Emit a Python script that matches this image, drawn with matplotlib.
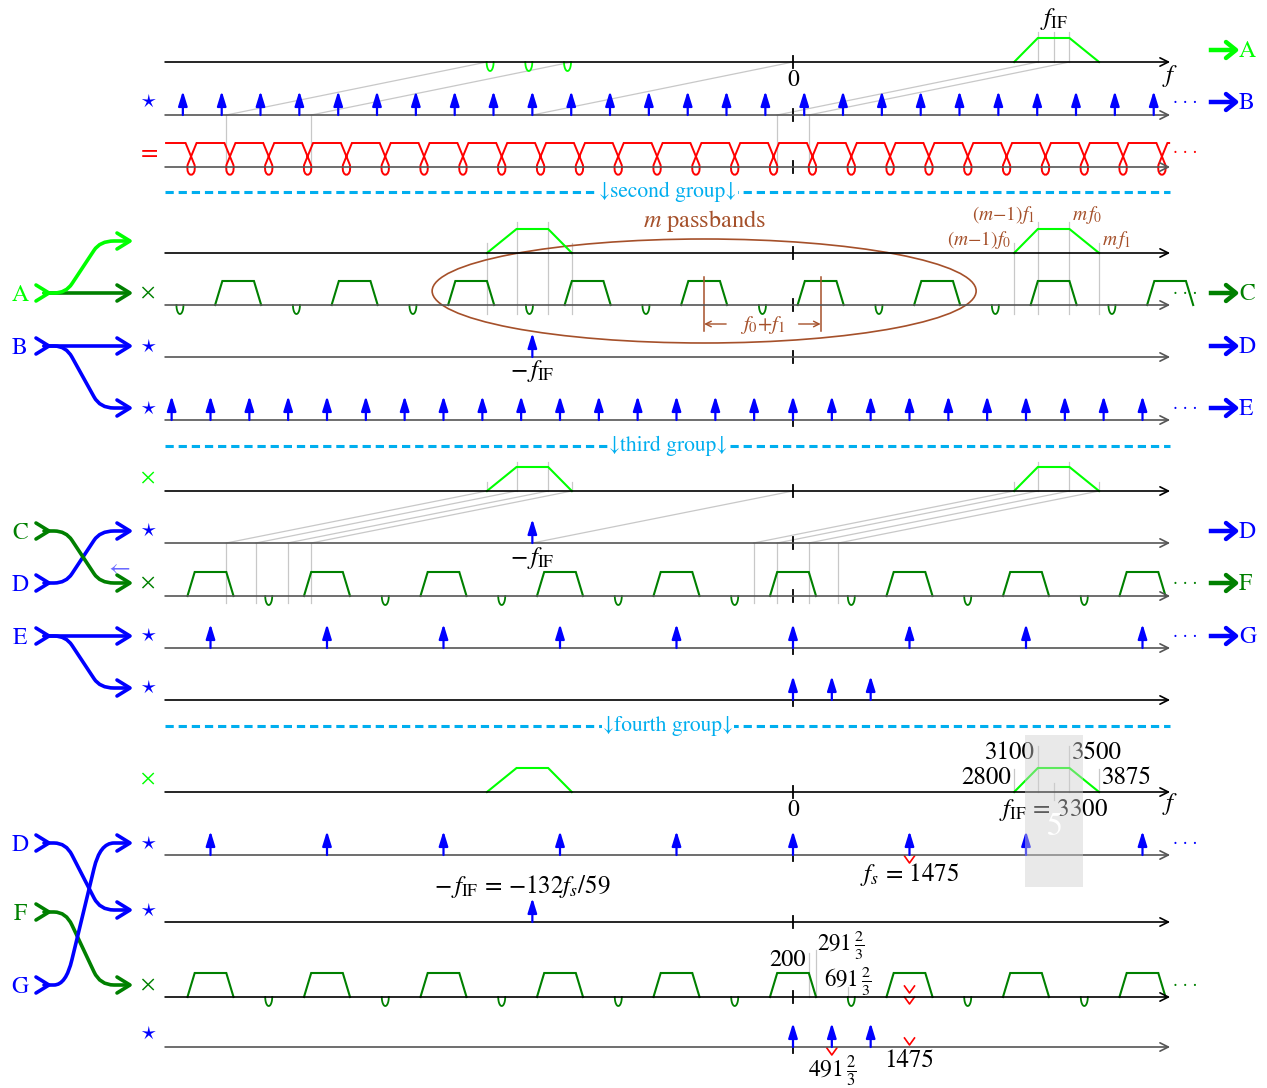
import numpy as np
import matplotlib
matplotlib.use("Agg")
import matplotlib.pyplot as plt
from matplotlib.path import Path
from matplotlib.patches import PathPatch, Ellipse, Rectangle

plt.rcParams["font.family"] = "STIXGeneral"
plt.rcParams["mathtext.fontset"] = "stix"

# ---------------------------------------------------------------- spectra (Hz)
F_IF = 3300
F_S = 1475
PASSBAND = [2800, 3100, 3500, 3875]              # rise, flat start, flat end, fall
IMAGE_NOTCHES = [-3835, -3345, -2855]
COMB_SHIFTED = [-7725, -7233, -6742, -6250, -5758, -5267, -4775, -4283, -3792,
                -3300, -2808, -2317, -1825, -1333, -842, -350, 142, 633, 1125,
                1617, 2108, 2600, 3092, 3583, 4075, 4567]
KNOTS = [-7621, -7129, -6638, -6146, -5654, -5163, -4671, -4179, -3688, -3196,
         -2704, -2213, -1721, -1229, -738, -246, 246, 738, 1229, 1721, 2213,
         2704, 3196, 3688, 4179, 4671]
COMB_THIRD = [-7867, -7375, -6883, -6392, -5900, -5408, -4917, -4425, -3933,
              -3442, -2950, -2458, -1967, -1475, -983, -492, 0, 492, 983, 1475,
              1967, 2458, 2950, 3442, 3933, 4425]
FILTER_C = [-7025, -5550, -4075, -2600, -1125, 350, 1825, 3300, 4775]
NOTCH_C = [-7762, -6287, -4812, -3337, -1862, -387, 1088, 2562, 4038]
FILTER_F = [-7375, -5900, -4425, -2950, -1475, 0, 1475, 2950, 4425]
NOTCH_F = [-6638, -5162, -3688, -2212, -738, 738, 2212, 3688]
COMB_FS = [-7375, -5900, -4425, -2950, -1475, 0, 1475, 2950, 4425]
LO_TONES = [0, 491.67, 983.33]
FLAT_HALF, EDGE_HALF = 200, 291.67
ALIAS_EDGE = 691.67
SKEW_G1 = [-3875, -2800, 0, 3100, 3500]
SKEW_G3 = [-3875, -3500, -3100, -2800, 0, 2800, 3100, 3500, 3875]
SPACING_MARKS = [-1125, 350]

# ---------------------------------------------------------------- layout
W, H = 1267, 1088
PX0 = 793
HZ_PER_PX = F_S / 116.5
AX_L, AX_R, CLIP_R = -7950, 4775, 4705

LIME, GREEN, BLUE, RED = "#00ff00", "#008000", "#0000ff", "#ff0000"
BROWN, CYAN, GUIDE = "#a5502a", "#00aeef", "#c8c8c8"
DARK, GREY = "#000000", "#555555"
DOTS = "· · ·"

fig = plt.figure(figsize=(W / 100, H / 100), dpi=100)
ax = fig.add_axes([0, 0, 1, 1])
ax.set_xlim(-PX0 * HZ_PER_PX, (W - PX0) * HZ_PER_PX)
ax.set_ylim(H, 0)
ax.axis("off")
deco = fig.add_axes([0, 0, 1, 1])
deco.set_xlim(0, W)
deco.set_ylim(H, 0)
deco.axis("off")
deco.patch.set_visible(False)

clip = Rectangle((AX_L, 0), CLIP_R - AX_L, H, transform=ax.transData)


def px(n):
    return n * HZ_PER_PX


def freq_axis(y, color):
    ax.annotate("", xy=(AX_R, y), xytext=(AX_L, y),
                arrowprops=dict(arrowstyle="->,head_length=0.6,head_width=0.3",
                                color=color, lw=1.2, shrinkA=0, shrinkB=0,
                                mutation_scale=10))
    ax.plot([0, 0], [y - 6, y + 6], color="black", lw=1.3)


def passband(y, corners, color):
    ax.plot(corners, [y, y - 24, y - 24, y], color=color, lw=1.5,
            solid_joinstyle="miter", clip_path=clip)


def filters(y, centers, color):
    for c in centers:
        passband(y, [c - EDGE_HALF, c - FLAT_HALF, c + FLAT_HALF, c + EDGE_HALF], color)


T = np.linspace(0, np.pi, 40)


def notches(y, freqs, color):
    for f in freqs:
        ax.plot(f + px(3.5) * np.cos(T), y + 9 * np.sin(T), color=color, lw=1.3)


def impulses(y, freqs):
    for f in freqs:
        ax.annotate("", xy=(f, y - 24), xytext=(f, y),
                    arrowprops=dict(arrowstyle="-|>,head_length=0.55,head_width=0.17",
                                    color=BLUE, lw=1.6, shrinkA=0, shrinkB=0,
                                    mutation_scale=16))


def guide(x0, y0, x1, y1):
    ax.plot([x0, x1], [y0, y1], color=GUIDE, lw=0.9, zorder=0.5)


def red_v(f, y):
    ax.plot([f - px(5), f, f + px(5)], [y, y + 7, y], color=RED, lw=1.2)


def label(x, y, s, ha="center", dx=0, size=17, color="black"):
    ax.annotate(s, xy=(x, y), xytext=(dx, 0), textcoords="offset points",
                ha=ha, va="center", fontsize=size, color=color)


def chevron(x, y, color, L=13, Wd=8, lw=2.6):
    deco.plot([x - L, x, x - L], [y - Wd, y, y + Wd], color=color, lw=lw,
              solid_capstyle="round", solid_joinstyle="round")


def route(y0, y1, color):
    dy = y1 - y0
    if dy == 0:
        verts = [(44, y0), (129, y0)]
        codes = [Path.MOVETO, Path.LINETO]
    else:
        verts = [(44, y0), (54, y0), (66, y0), (72, y0 + 0.18 * dy),
                 (94, y0 + 0.82 * dy), (100, y1), (114, y1), (129, y1)]
        codes = [Path.MOVETO, Path.LINETO, Path.CURVE3, Path.CURVE3,
                 Path.LINETO, Path.CURVE3, Path.CURVE3, Path.LINETO]
    deco.add_patch(PathPatch(Path(verts, codes), fill=False, ec=color, lw=2.6,
                             capstyle="round"))
    chevron(130, y1, color)


def source(y, name, color):
    deco.text(20, y + 8, name, ha="center", va="baseline", fontsize=17, color=color)
    chevron(49, y, color)


def dots(y, color):
    deco.text(1185, y, DOTS, ha="center", va="center", fontsize=14, color=color)


def sink(y, name, color, more=True):
    if more:
        dots(y, color)
    deco.plot([1211, 1233], [y, y], color=color, lw=3.2)
    chevron(1236, y, color, L=10, Wd=8, lw=3.2)
    deco.text(1239, y + 7, name, ha="left", va="baseline", fontsize=17, color=color)


def operator(y, sym, color, size=16):
    deco.text(148, y, sym, ha="center", va="center", fontsize=size, color=color)


def separator(y, text):
    deco.plot([165, 1170], [y, y], color=CYAN, lw=2.2, dashes=(2.7, 1.6))
    deco.text(668, y, text, ha="center", va="center", fontsize=15.5, color=CYAN,
              bbox=dict(boxstyle="square,pad=0.05", fc="white", ec="none"))


MIRROR = [-f for f in PASSBAND[::-1]]
R = dict(r1=62, r2=115, r3=167, r4=253, r5=305, r6=357, r7=420, r8=491,
         r9=543, r10=596, r11=648, r12=700, r13=792, r14=855, r15=922,
         r16=997, r17=1047)
NEG_IF = r"$-\,f_{\rm IF}$"

# ---------------------------------------------------------------- first group
freq_axis(R["r1"], DARK)
passband(R["r1"], PASSBAND, LIME)
notches(R["r1"], IMAGE_NOTCHES, LIME)
for f in [PASSBAND[1], F_IF, PASSBAND[2]]:
    guide(f, 32, f, R["r1"])
label(F_IF, 19, r"$f_{\rm IF}$", size=18)
label(0, 80, "0")
label(AX_R, 76, r"$f$", size=18)
for f in SKEW_G1:
    guide(f, R["r1"], f - F_IF, R["r2"])
    if f != 0:
        guide(f - F_IF, R["r2"], f - F_IF, R["r3"] + 5)

freq_axis(R["r2"], GREY)
impulses(R["r2"], COMB_SHIFTED)
operator(102, r"$\star$", BLUE)
sink(102, "B", BLUE)
sink(50, "A", LIME, more=False)

freq_axis(R["r3"], GREY)
top, base = R["r3"] - 24, R["r3"]
verts, codes = [(AX_L, top)], [Path.MOVETO]
for c in KNOTS:
    verts += [(c - px(5.5), top), (c + px(3.5), base - 2), (c + px(5.5), base + 11),
              (c - px(5.5), base + 11), (c - px(3.5), base - 2), (c + px(5.5), top)]
    codes += [Path.LINETO, Path.LINETO, Path.CURVE4, Path.CURVE4, Path.CURVE4, Path.LINETO]
verts.append((AX_R, top))
codes.append(Path.LINETO)
knot_patch = PathPatch(Path(verts, codes), fill=False, ec=RED, lw=1.4)
knot_patch.set_clip_path(clip)
ax.add_patch(knot_patch)
operator(152, r"$=$", RED, size=18)
dots(152, RED)

separator(192, "↓second group↓")

# ---------------------------------------------------------------- second group
freq_axis(R["r4"], DARK)
passband(R["r4"], MIRROR, LIME)
passband(R["r4"], PASSBAND, LIME)
for corners in (MIRROR, PASSBAND):
    for i, f in enumerate(corners):
        guide(f, 222 if i in (1, 2) else 243, f, 314)
label(PASSBAND[1], 215, r"$(m{-}1)f_1$", ha="right", dx=-2, size=14, color=BROWN)
label(PASSBAND[2], 215, r"$m\,f_0$", ha="left", dx=2, size=14, color=BROWN)
label(PASSBAND[0], 240, r"$(m{-}1)f_0$", ha="right", dx=-2, size=14, color=BROWN)
label(PASSBAND[3], 240, r"$m\,f_1$", ha="left", dx=2, size=14, color=BROWN)
label(SPACING_MARKS[0], 221, r"$m$ passbands", size=17.5, color=BROWN)
ax.add_patch(Ellipse((SPACING_MARKS[0], 291), px(544), 104, fill=False, ec=BROWN, lw=1.2))

freq_axis(R["r5"], GREY)
filters(R["r5"], FILTER_C, GREEN)
notches(R["r5"], NOTCH_C, GREEN)
for f in SPACING_MARKS:
    ax.plot([f, f], [277, 331], color=BROWN, lw=1.1)
ax.annotate("", xy=(SPACING_MARKS[0], 324), xytext=(SPACING_MARKS[0] + px(22), 324),
            arrowprops=dict(arrowstyle="->", color=BROWN, lw=1, shrinkA=0, shrinkB=0))
ax.annotate("", xy=(SPACING_MARKS[1], 324), xytext=(SPACING_MARKS[1] - px(22), 324),
            arrowprops=dict(arrowstyle="->", color=BROWN, lw=1, shrinkA=0, shrinkB=0))
label(sum(SPACING_MARKS) / 2, 325, r"$f_0{+}f_1$", size=15, color=BROWN)
operator(294, r"$\times$", GREEN)
sink(293, "C", GREEN)

freq_axis(R["r6"], GREY)
impulses(R["r6"], [-F_IF])
label(-F_IF, 371, NEG_IF, size=18)
operator(347, r"$\star$", BLUE)
sink(346, "D", BLUE, more=False)

freq_axis(R["r7"], GREY)
impulses(R["r7"], COMB_THIRD)
operator(409, r"$\star$", BLUE)
sink(408, "E", BLUE)

route(293, 293, GREEN)
route(293, 241, LIME)
source(293, "A", LIME)
route(346, 346, BLUE)
route(346, 408, BLUE)
source(346, "B", BLUE)

separator(446, "↓third group↓")

# ---------------------------------------------------------------- third group
freq_axis(R["r8"], DARK)
for corners in (MIRROR, PASSBAND):
    passband(R["r8"], corners, LIME)
    for i, f in enumerate(corners):
        guide(f, 462 if i in (1, 2) else 482, f, R["r8"])
for f in SKEW_G3:
    guide(f, R["r8"], f - F_IF, R["r9"])
    if f != 0:
        guide(f - F_IF, R["r9"], f - F_IF, R["r10"] + 7)
operator(479, r"$\times$", LIME)

freq_axis(R["r9"], GREY)
impulses(R["r9"], [-F_IF])
label(-F_IF, 558, NEG_IF, size=18)
operator(531, r"$\star$", BLUE)
sink(531, "D", BLUE, more=False)

freq_axis(R["r10"], GREY)
filters(R["r10"], FILTER_F, GREEN)
notches(R["r10"], NOTCH_F, GREEN)
operator(584, r"$\times$", GREEN)
sink(583, "F", GREEN)
deco.text(119, 570, "←", ha="center", va="center", fontsize=17, color="#6a6aff")

freq_axis(R["r11"], GREY)
impulses(R["r11"], COMB_FS)
operator(636, r"$\star$", BLUE)
sink(636, "G", BLUE)

freq_axis(R["r12"], DARK)
impulses(R["r12"], LO_TONES)
operator(688, r"$\star$", BLUE)

route(583, 531, BLUE)
source(583, "D", BLUE)
route(531, 583, GREEN)
source(531, "C", GREEN)
route(636, 636, BLUE)
route(636, 688, BLUE)
source(636, "E", BLUE)

separator(726, "↓fourth group↓")

# ---------------------------------------------------------------- fourth group
freq_axis(R["r13"], DARK)
passband(R["r13"], MIRROR, LIME)
passband(R["r13"], PASSBAND, LIME)
for i, f in enumerate(PASSBAND):
    guide(f, 746 if i in (1, 2) else 769, f, R["r13"])
guide(F_IF, 783, F_IF, 800)
label(PASSBAND[1], 753, f"{PASSBAND[1]}", ha="right", dx=-2, size=18)
label(PASSBAND[2], 753, f"{PASSBAND[2]}", ha="left", dx=2, size=18)
label(PASSBAND[0], 778, f"{PASSBAND[0]}", ha="right", dx=-2, size=18)
label(PASSBAND[3], 778, f"{PASSBAND[3]}", ha="left", dx=2, size=18)
label(0, 810, "0")
label(AX_R, 804, r"$f$", size=18)
label(F_IF, 810, r"$f_{\rm IF}\,=\,3300$", size=18)
operator(780, r"$\times$", LIME)

freq_axis(R["r14"], GREY)
impulses(R["r14"], COMB_FS)
red_v(F_S, 856)
label(F_S, 875, r"$f_s\,=\,1475$", size=18)
operator(844, r"$\star$", BLUE)
dots(843, BLUE)

freq_axis(R["r15"], DARK)
impulses(R["r15"], [-F_IF])
label(-F_IF - px(10), 886, r"$-\,f_{\rm IF}\,=\,{-}132f_s/59$", size=18)
operator(911, r"$\star$", BLUE)

freq_axis(R["r16"], DARK)
filters(R["r16"], FILTER_F, GREEN)
notches(R["r16"], NOTCH_F, GREEN)
guide(FLAT_HALF, 953, FLAT_HALF, R["r16"])
guide(EDGE_HALF, 950, EDGE_HALF, R["r16"])
guide(ALIAS_EDGE, 987, ALIAS_EDGE, R["r16"])
label(FLAT_HALF, 960, "200", ha="right", dx=-2, size=17.5)
label(EDGE_HALF, 945, r"$291\,\frac{2}{3}$", ha="left", dx=1, size=16.5)
label(ALIAS_EDGE, 981, r"$691\,\frac{2}{3}$", size=16.5)
red_v(F_S, 986)
red_v(F_S, 997)
operator(986, r"$\times$", GREEN)
dots(985, GREEN)

freq_axis(R["r17"], GREY)
impulses(R["r17"], LO_TONES)
red_v(F_S, 1038)
red_v(LO_TONES[1], 1048)
label(LO_TONES[1], 1071, r"$491\,\frac{2}{3}$", size=17)
label(F_S, 1061, "1475", size=18)
operator(1034, r"$\star$", BLUE)

route(912, 985, GREEN)
source(912, "F", GREEN)
route(985, 843, BLUE)
source(985, "G", BLUE)
route(843, 910, BLUE)
source(843, "D", BLUE)

# translucent page tab
deco.add_patch(Rectangle((1025, 735), 58, 152, fc="#cfcfcf", ec="none", alpha=0.45, zorder=20))
deco.text(1055, 827, "5", ha="center", va="center", fontsize=23, color="white", zorder=21)

fig.savefig("out.png", dpi=100)
